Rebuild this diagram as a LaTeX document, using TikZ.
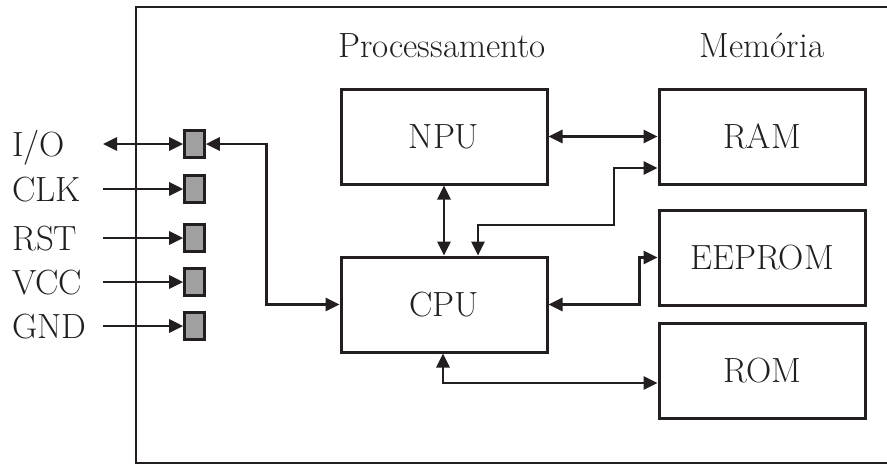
\documentclass[tikz,border=0pt]{standalone}
\usetikzlibrary{arrows.meta}
\definecolor{ink}{HTML}{231F20}
\definecolor{pingray}{HTML}{A0A0A0}
\begin{document}
\begin{tikzpicture}[x=1pt,y=-1pt,
  every node/.style={font=\fontsize{35}{40}\selectfont, text=ink},
  box/.style={draw=ink, line width=3pt, minimum width=206pt, minimum height=95pt, inner sep=0pt},
  pin/.style={draw=ink, fill=pingray, line width=2.6pt, minimum width=20pt, minimum height=27pt, inner sep=0pt},
  lbl/.style={anchor=base west, inner sep=0pt},
  hdr/.style={anchor=base, inner sep=0pt},
  conn/.style={draw=ink, line width=2.8pt, arrows={-Triangle[length=14pt,width=13pt]}},
  bconn/.style={draw=ink, line width=2.8pt, arrows={Triangle[length=14pt,width=13pt]-Triangle[length=14pt,width=13pt]}},
  frame/.style={draw=ink, line width=2.4pt}]
\useasboundingbox (0,0) rectangle (887,464);
\draw[frame] (888,7) -- (136,7) -- (136,463) -- (888,463);

% headers
\node[hdr] (hproc) at (442,57) {Processamento};
\node[hdr] (hmem) at (762,57) {Memória};

% boxes
\node[box] (npu) at (444,136.5) {NPU};
\node[box] (cpu) at (444,304.5) {CPU};
\node[box] (ram) at (762,136.5) {RAM};
\node[box] (eeprom) at (762,257.5) {EEPROM};
\node[box] (rom) at (762,371) {ROM};

% pins
\node[pin] (pio) at (194.5,144) {};
\node[pin] (pclk) at (194.5,189) {};
\node[pin] (prst) at (194.5,238) {};
\node[pin] (pvcc) at (194.5,282) {};
\node[pin] (pgnd) at (194.5,326) {};

% labels
\node[lbl] (lio) at (12,156) {I/O};
\node[lbl] (lclk) at (12,201) {CLK};
\node[lbl] (lrst) at (12,250) {RST};
\node[lbl] (lvcc) at (12,294) {VCC};
\node[lbl] (lgnd) at (12,338) {GND};

\coordinate (sio) at (103,144);
\coordinate (sclk) at (103,189);
\coordinate (srst) at (103,238);
\coordinate (svcc) at (103,282);
\coordinate (sgnd) at (103,326);

\draw[bconn] (sio) -- (pio.west);
\draw[conn] (sclk) -- (pclk.west);
\draw[conn] (srst) -- (prst.west);
\draw[conn] (svcc) -- (pvcc.west);
\draw[conn] (sgnd) -- (pgnd.west);

% internal connections
\draw[bconn] (pio.east) -- ++(61,0) |- (cpu.west);
\draw[bconn] (npu.east) -- (ram.west);
\draw[bconn] (npu) -- (cpu);
\draw[bconn] ([xshift=34pt]cpu.north) |- (614,225) |- ([yshift=-31.5pt]ram.west);
\draw[bconn] (cpu.east) -- ++(91,0) |- (eeprom.west);
\draw[bconn] ([xshift=-1pt]cpu.south) |- ([yshift=-12pt]rom.west);
\end{tikzpicture}
\end{document}
